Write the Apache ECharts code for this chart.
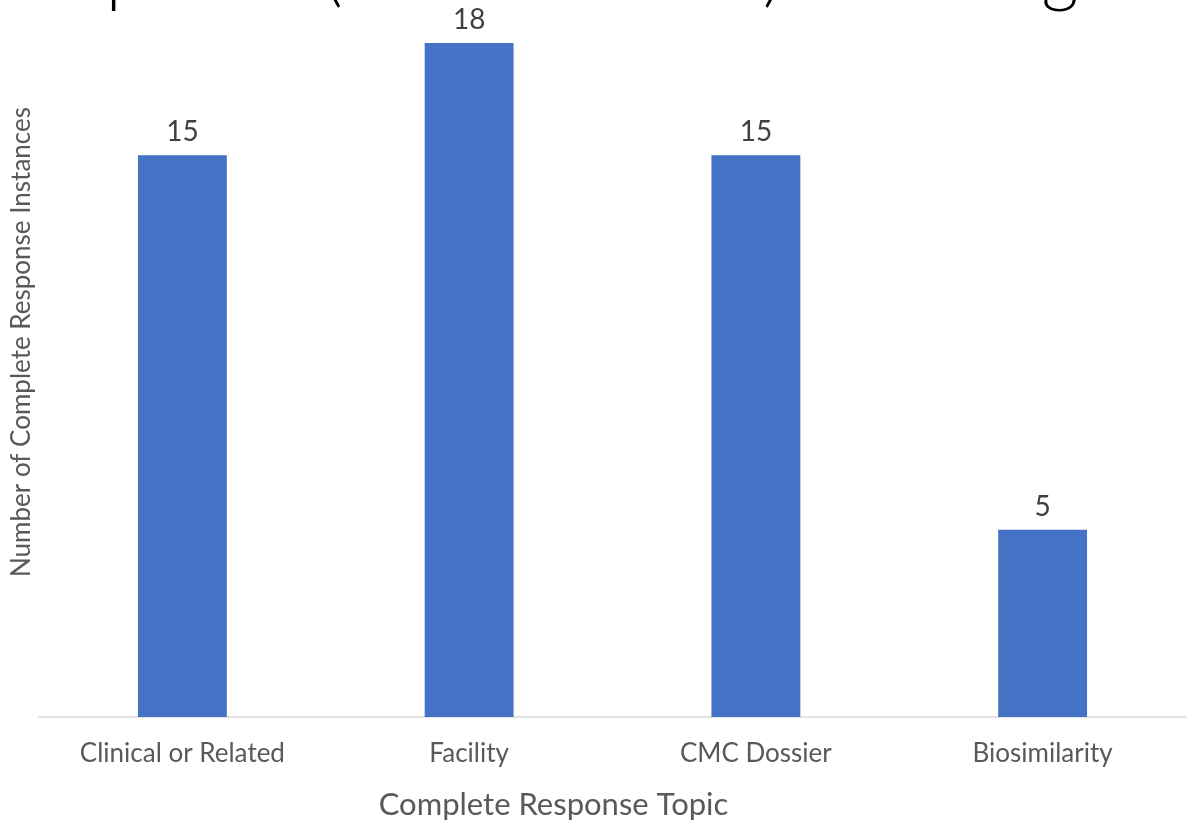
<!DOCTYPE html>
<html>
<head>
<meta charset="utf-8">
<script src="https://cdn.jsdelivr.net/npm/echarts@6/dist/echarts.min.js"></script>
<style>
  html, body { margin: 0; padding: 0; background: #fff; }
  #chart { width: 1192px; height: 832px; }
</style>
</head>
<body>
<div id="chart"></div>
<script>
var topics = ['Clinical or Related', 'Facility', 'CMC Dossier', 'Biosimilarity'];
var instances = [15, 18, 15, 5];
var slideTitle = 'period (32 total BLAs) including 10';

window.onload = function () {
  var chart = echarts.init(document.getElementById('chart'));

  var option = {
    animation: false,
    textStyle: { fontFamily: 'Lato, "Open Sans", sans-serif' },
    grid: { left: 39, right: 6, top: 43, bottom: 115 },
    graphic: [
      {
        // slide title above the chart, cut off by the top edge
        type: 'text',
        left: 106,
        top: -61,
        style: {
          text: slideTitle,
          font: '300 72px Lato, "Open Sans", sans-serif',
          fill: '#000'
        }
      },
      {
        type: 'text',
        x: 22,
        y: 342,
        rotation: Math.PI / 2,
        style: {
          text: 'Number of Complete Response Instances',
          font: '26px Lato, "Open Sans", sans-serif',
          fill: '#595959',
          align: 'center',
          verticalAlign: 'middle'
        }
      }
    ],
    xAxis: {
      type: 'category',
      data: topics,
      name: 'Complete Response Topic',
      nameLocation: 'middle',
      nameGap: 72,
      // title sits a bit left of the plot centre in the original
      nameTextStyle: { fontSize: 31, color: '#595959', padding: [0, 118, 0, 0] },
      axisLine: { lineStyle: { color: '#d9d9d9', width: 1.5 } },
      axisTick: { show: false },
      axisLabel: { fontSize: 26, color: '#595959', margin: 24 }
    },
    yAxis: {
      type: 'value',
      min: 0,
      max: 18,
      show: false,
      splitLine: { show: false }
    },
    series: [{
      type: 'bar',
      data: instances,
      barWidth: '31%',
      itemStyle: { color: '#4472c4' },
      label: {
        show: true,
        position: 'top',
        distance: 9,
        fontSize: 28,
        color: '#404040'
      }
    }]
  };

  chart.setOption(option);
};
</script>
</body>
</html>
